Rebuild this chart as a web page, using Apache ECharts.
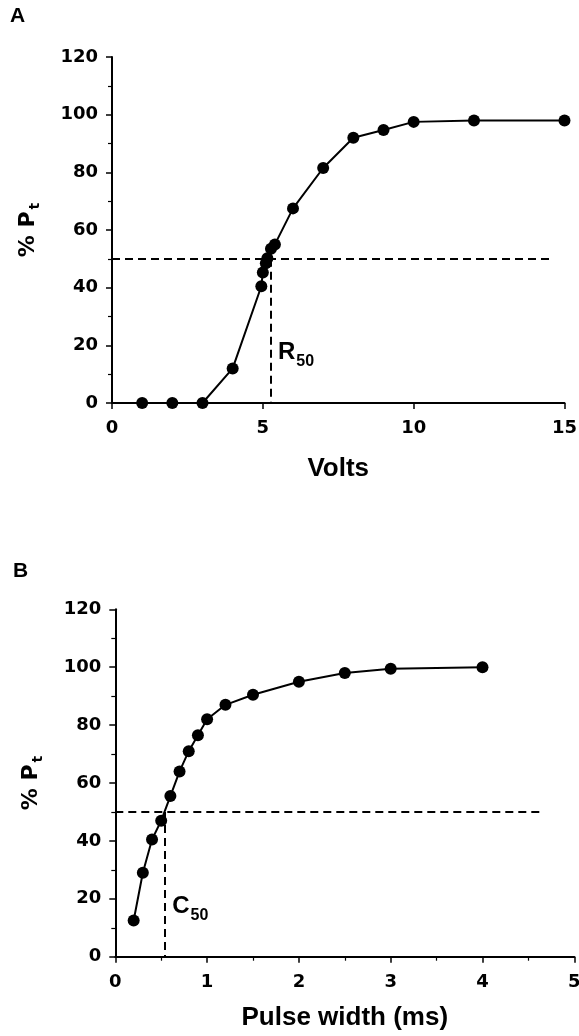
<!DOCTYPE html>
<html><head><meta charset="utf-8">
<script src="https://cdn.jsdelivr.net/npm/echarts@6/dist/echarts.min.js"></script>
<style>html,body{margin:0;padding:0;background:#fff}#c{width:579px;height:1036px}</style>
</head><body><div id="c"></div>
<script>
// Panel A: response vs stimulus voltage
const voltsX = [1, 2, 3, 4, 4.95, 5, 5.1, 5.15, 5.27, 5.4, 6, 7, 8, 9, 10, 12, 15];
const voltsY = [0, 0, 0, 12, 40.5, 45.3, 48.5, 50.2, 53.5, 55, 67.5, 81.5, 92, 94.7, 97.5, 98, 98];
// Panel B: response vs pulse width
const pulseX = [0.2, 0.3, 0.4, 0.5, 0.6, 0.7, 0.8, 0.9, 1.0, 1.2, 1.5, 2, 2.5, 3, 4];
const pulseY = [12.5, 29, 40.5, 47, 55.5, 64, 71, 76.5, 82, 87, 90.5, 95, 98, 99.5, 100];
// tick settings
const yRange = [0, 120, 20];
const voltsRange = [0, 15, 5];
const pulseRange = [0, 5, 1];
// 50% reference lines: [x at 50%, level, dashed line end]
const r50Line = [5.27, 50, 14.5];
const c50Line = [0.54, 50, 4.65];
// annotation anchors
const r50Label = [5.5, 11.6];
const c50Label = [0.62, 11.4];
const panelLetters = ['A', 'B'];
const xNames = ['Volts', 'Pulse width (ms)'];

const K = '#000';
const tickFont = {fontFamily: 'DejaVu Sans', fontWeight: 'bold', fontSize: 18, color: K};
const titleFont = {fontFamily: 'Liberation Sans', fontWeight: 'bold', fontSize: 26, color: K};

function yAxis(gi) {
  return {
    type: 'value', gridIndex: gi, min: yRange[0], max: yRange[1], interval: yRange[2],
    name: '{m|% P}{s|t}', nameLocation: 'middle', nameGap: 70,
    nameTextStyle: {rich: {
      m: {fontFamily: 'DejaVu Sans', fontWeight: 'bold', fontSize: 22, color: K, verticalAlign: 'top', lineHeight: 24},
      s: {fontFamily: 'DejaVu Sans', fontWeight: 'bold', fontSize: 14, color: K, verticalAlign: 'top', padding: [11, 0, 0, 2]}
    }},
    axisLine: {show: true, lineStyle: {color: K, width: 2}},
    axisTick: {show: true, length: 6, lineStyle: {color: K, width: 1.5}},
    minorTick: {show: true, splitNumber: 2, length: 4, lineStyle: {color: K, width: 1.2}},
    axisLabel: Object.assign({margin: 14}, tickFont),
    splitLine: {show: false}, minorSplitLine: {show: false}
  };
}
function xAxis(gi, rng, name, gap, minor, margin) {
  return {
    type: 'value', gridIndex: gi, min: rng[0], max: rng[1], interval: rng[2],
    name: name, nameLocation: 'middle', nameGap: gap, nameTextStyle: titleFont,
    axisLine: {show: true, onZero: false, lineStyle: {color: K, width: 2}},
    axisTick: {show: true, length: 6, lineStyle: {color: K, width: 1.5}},
    minorTick: {show: minor, splitNumber: 2, length: 4, lineStyle: {color: K, width: 1.2}},
    axisLabel: Object.assign({margin: margin, showMinLabel: true, showMaxLabel: true}, tickFont),
    splitLine: {show: false}, minorSplitLine: {show: false}
  };
}
function curve(gi, xs, ys, ref) {
  return {
    type: 'line', xAxisIndex: gi, yAxisIndex: gi,
    data: xs.map((x, i) => [x, ys[i]]),
    symbol: 'circle', symbolSize: 12, showSymbol: true,
    itemStyle: {color: K}, lineStyle: {color: K, width: 2},
    emphasis: {disabled: true}, z: 3,
    markLine: {
      silent: true, symbol: ['none', 'none'], animation: false,
      label: {show: false},
      lineStyle: {color: K, width: 2, type: [8, 5]},
      data: [
        [{coord: [0, ref[1]]}, {coord: [ref[2], ref[1]]}],
        [{coord: [ref[0], ref[1]]}, {coord: [ref[0], 0]}]
      ]
    }
  };
}
function note(gi, pos, letter) {
  return {
    type: 'scatter', xAxisIndex: gi, yAxisIndex: gi, data: [pos],
    symbolSize: 1, itemStyle: {color: 'rgba(0,0,0,0)', opacity: 1}, silent: true,
    label: {
      show: true, position: 'inside', align: 'left', verticalAlign: 'bottom', opacity: 1, color: K,
      formatter: '{m|' + letter + '}{s|50}',
      rich: {
        m: {fontFamily: 'Liberation Sans', fontWeight: 'bold', fontSize: 24, color: K, verticalAlign: 'top', lineHeight: 26},
        s: {fontFamily: 'Liberation Sans', fontWeight: 'bold', fontSize: 16, color: K, verticalAlign: 'top', padding: [13, 0, 0, 1]}
      }
    }
  };
}

const chart = echarts.init(document.getElementById('c'), null, {renderer: 'canvas'});
chart.setOption({
  animation: false,
  backgroundColor: '#fff',
  grid: [
    {left: 112, right: 14.5, top: 57, bottom: 633, outerBoundsMode: 'none', containLabel: false},
    {left: 115.3, right: 4.7, top: 609.3, bottom: 79.3, outerBoundsMode: 'none', containLabel: false}
  ],
  xAxis: [
    xAxis(0, voltsRange, xNames[0], 53, false, 16),
    xAxis(1, pulseRange, xNames[1], 48, true, 17)
  ],
  yAxis: [yAxis(0), yAxis(1)],
  graphic: [
    {type: 'text', left: 10, top: 6, style: {text: panelLetters[0], font: 'bold 21px "Liberation Sans"', fill: K}},
    {type: 'text', left: 13, top: 561, style: {text: panelLetters[1], font: 'bold 21px "Liberation Sans"', fill: K}}
  ],
  series: [
    curve(0, voltsX, voltsY, r50Line),
    curve(1, pulseX, pulseY, c50Line),
    note(0, r50Label, 'R'),
    note(1, c50Label, 'C')
  ]
});
</script></body></html>
